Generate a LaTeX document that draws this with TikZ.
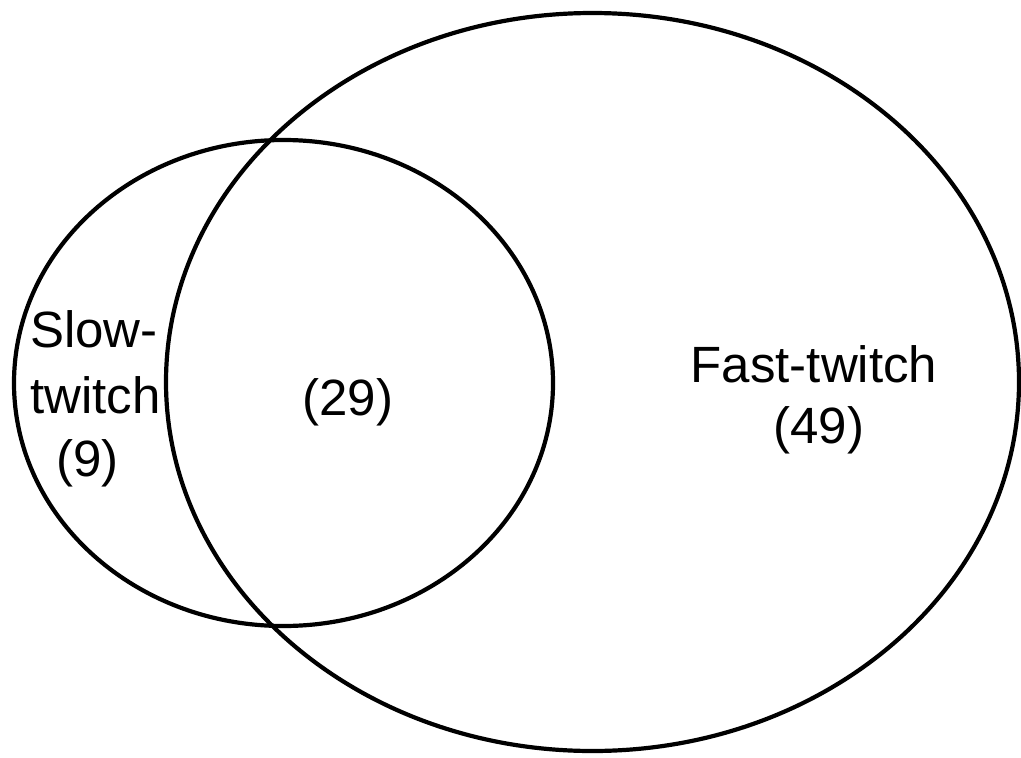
\documentclass[tikz,border=0pt]{standalone}
\usepackage{fontspec}
\setmainfont{Liberation Sans}
\begin{document}
\begin{tikzpicture}[x=1pt,y=-1pt,
  ring/.style={draw=black,line width=4.2pt},
  lbl/.style={inner sep=0pt,font=\fontsize{51}{60}\selectfont}]
\useasboundingbox (0,0) rectangle (1021,758);
% the two sets
\draw[ring] (283.5,383) ellipse [x radius=269.5, y radius=243];
\draw[ring] (592.5,382) ellipse [x radius=426.5, y radius=369];
% labels
\node[lbl,anchor=base west] (slowa) at (30,347) {Slow-};
\node[lbl,anchor=base west] (slowb) at (30,413) {twitch};
\node[lbl,anchor=base west] (slowc) at (56,476) {(9)};
\node[lbl,anchor=base] (both) at (348,415) {(29)};
\node[lbl,anchor=base] (fasta) at (814,382) {Fast-twitch};
\node[lbl,anchor=base] (fastb) at (819,443) {(49)};
\end{tikzpicture}
\end{document}
